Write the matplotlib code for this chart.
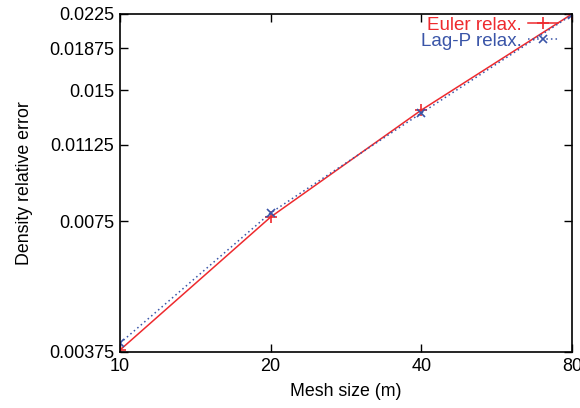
import matplotlib
matplotlib.use("Agg")
import matplotlib.pyplot as plt
from matplotlib.ticker import FixedLocator, FixedFormatter, NullLocator

mesh = [10, 20, 40, 80]
euler = [0.00379, 0.00767, 0.01352, 0.0225]
lagp = [0.00393, 0.00784, 0.01331, 0.0224]
xticks = [10, 20, 40, 80]
xticklabels = ["10", "20", "40", "80"]
yticks = [0.00375, 0.0075, 0.01125, 0.015, 0.01875, 0.0225]
yticklabels = ["0.00375", "0.0075", "0.01125", "0.015", "0.01875", "0.0225"]

plt.rcParams['font.family'] = ['Liberation Sans', 'DejaVu Sans']
red = "#ee2a2e"
blue = "#3a55a8"

fig = plt.figure(figsize=(5.8, 4.08), dpi=100)
ax = fig.add_axes([120/580, 1-352/408, (572-120)/580, (352-14)/408])

ax.plot(mesh, euler, color=red, lw=1.1, ls='-', marker='+', ms=8, mew=1.2, label="Euler relax.")
ax.plot(mesh, lagp, color=blue, lw=1.1, ls=(0, (1, 2)), marker='x', ms=6, mew=1.2, label="Lag-P relax.")

ax.set_xscale('log')
ax.set_yscale('log')
ax.set_xlim(10, 80)
ax.set_ylim(0.00375, 0.0225)

ax.xaxis.set_major_locator(FixedLocator(xticks))
ax.xaxis.set_major_formatter(FixedFormatter(xticklabels))
ax.xaxis.set_minor_locator(NullLocator())
ax.yaxis.set_major_locator(FixedLocator(yticks))
ax.yaxis.set_major_formatter(FixedFormatter(yticklabels))
ax.yaxis.set_minor_locator(NullLocator())

ax.tick_params(direction='in', top=True, right=True, length=6, width=1, labelsize=13, pad=4)
for s in ax.spines.values():
    s.set_linewidth(1.2)

ax.set_xlabel("Mesh size (m)", fontsize=12.8, labelpad=6)
ax.set_ylabel("Density relative error", fontsize=12.8, labelpad=12)

leg = ax.legend(loc='upper right', frameon=False, markerfirst=False, fontsize=13.5,
                handlelength=1.6, labelspacing=-0.05, borderaxespad=0.0,
                handletextpad=0.3, bbox_to_anchor=(0.985, 1.015))
for t, c in zip(leg.get_texts(), [red, blue]):
    t.set_color(c)
    t.set_ha('right')

fig.savefig("out.png", dpi=100)
